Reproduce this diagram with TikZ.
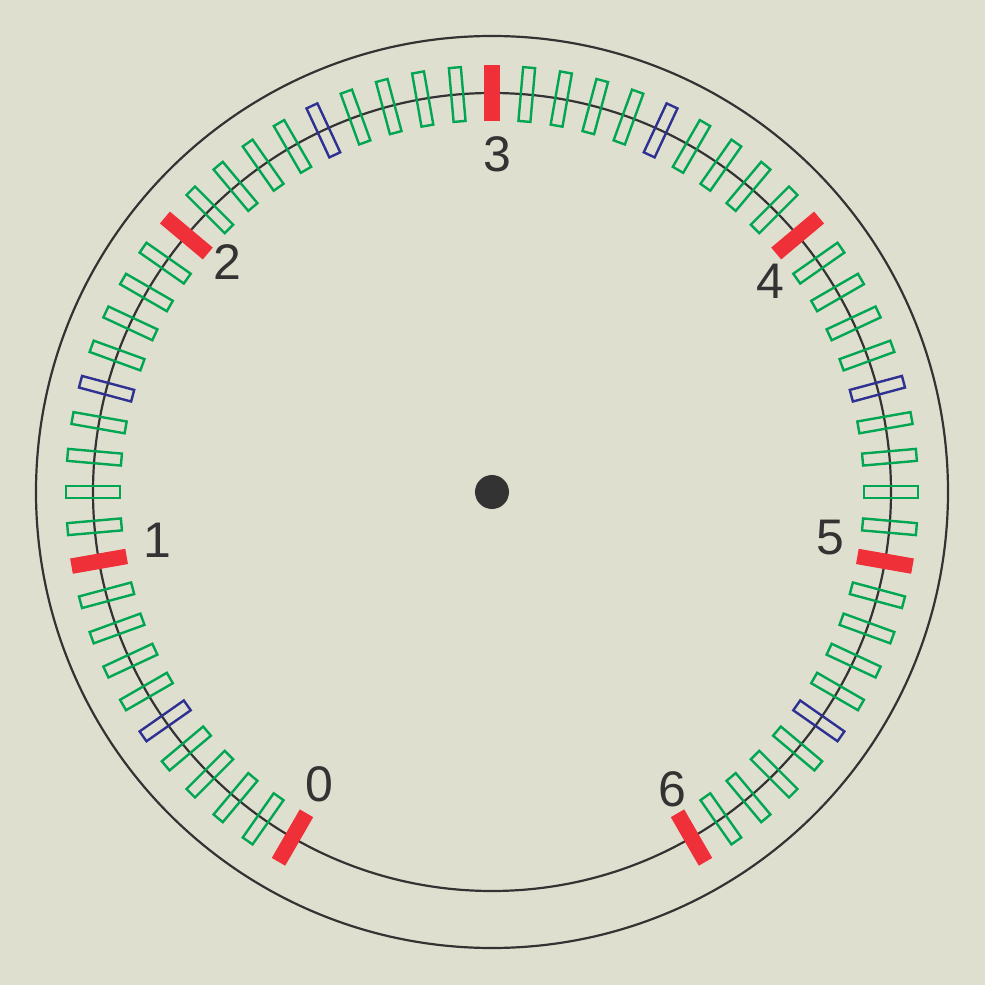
\documentclass[tikz,border=0pt]{standalone}
\usepackage{fontspec}
\setmainfont{Liberation Sans}
\definecolor{bg}{HTML}{DFDFD0}
\definecolor{dark}{HTML}{333333}
\definecolor{tickred}{HTML}{EF3039}
\definecolor{tickgreen}{HTML}{00A651}
\definecolor{tickblue}{HTML}{2E3192}
\tikzset{
  ring/.style={draw=dark, line width=2.2pt},
  redtick/.style={fill=tickred, draw=none},
  greentick/.style={draw=tickgreen, line width=2.4pt},
  bluetick/.style={draw=tickblue, line width=2.4pt},
  numlabel/.style={text=dark, font=\fontsize{50}{60}\selectfont, inner sep=0pt}
}
\begin{document}
\begin{tikzpicture}[x=1pt,y=1pt]
\fill[bg] (-492,-493) rectangle (493,492);
\useasboundingbox (-492,-493) rectangle (493,492);
\draw[ring] (0,0) circle (456);
\draw[ring] (0,0) circle (399);
\foreach \k in {0,...,60}{
  \pgfmathsetmacro{\ang}{240-5*\k}
  \pgfmathtruncatemacro{\mten}{mod(\k,10)}
  \pgfmathtruncatemacro{\mfive}{mod(\k,5)}
  \ifnum\mten=0
    \fill[redtick, rotate=\ang] (371,-7.75) rectangle (427,7.75);
  \else\ifnum\mfive=0
    \draw[bluetick, rotate=\ang] (372,-6) rectangle (426,6);
  \else
    \draw[greentick, rotate=\ang] (372,-6) rectangle (426,6);
  \fi\fi
}
\fill[dark] (0,0) circle (17);
\node[numlabel] (l0) at (-173,-292) {0};
\node[numlabel] (l1) at (-335,-48) {1};
\node[numlabel] (l2) at (-265,230) {2};
\node[numlabel] (l3) at (5,338) {3};
\node[numlabel] (l4) at (278,211) {4};
\node[numlabel] (l5) at (338,-46) {5};
\node[numlabel] (l6) at (180,-297) {6};
\end{tikzpicture}
\end{document}
